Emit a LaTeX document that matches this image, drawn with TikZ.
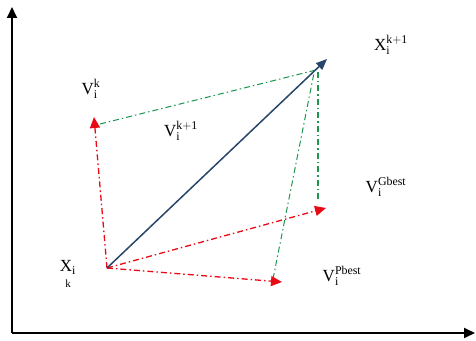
\documentclass[tikz,border=0pt]{standalone}
\usepackage{fontspec}
\setmainfont{Liberation Serif}
\usetikzlibrary{arrows.meta}
\definecolor{vred}{RGB}{232,10,20}
\definecolor{vgreen}{RGB}{30,150,80}
\definecolor{vblue}{RGB}{40,70,105}
\begin{document}
\begin{tikzpicture}[x=1pt, y=1pt,
  axis/.style={line width=1.8pt, -{Triangle[length=11pt,width=10pt]}},
  redvec/.style={vred, line width=1.3pt, dash pattern=on 6pt off 3pt on 1.5pt off 3pt,
                 -{Triangle[length=11pt,width=10pt]}},
  greenline/.style={vgreen, line width=1pt, dash pattern=on 6pt off 3pt on 1.5pt off 3pt},
  bluevec/.style={vblue, line width=1.5pt, -{Triangle[length=11pt,width=9pt]}},
  lbl/.style={font=\fontsize{17}{19}\selectfont, inner sep=0pt}
]
\useasboundingbox (0,0) rectangle (476,340);

% axes
\coordinate (o) at (12,7);
\coordinate (ytop) at (12,333);
\coordinate (xend) at (475,7);
\draw[axis] (o) -- (ytop);
\draw[axis] (o) -- (xend);

% points
\coordinate (xk) at (107,72);
\coordinate (vk) at (94,223);
\coordinate (pb) at (282,58);
\coordinate (gb) at (326,132);
\coordinate (xk1) at (327,281);
\coordinate (gtop1) at (316,270);
\coordinate (gtop2) at (314,267);
\coordinate (gtop3) at (318,268);
\coordinate (vkb) at (100,216);
\coordinate (pbb) at (273,61);
\coordinate (gbb) at (318,138);

% green construction lines
\draw[greenline] (vkb) -- (gtop1);
\draw[greenline] (pbb) -- (gtop2);
\draw[greenline, line width=1.6pt] (gtop3) -- (gbb);

% velocity vectors
\draw[redvec] (xk) -- (vk);
\draw[redvec] (xk) -- (pb);
\draw[redvec] (xk) -- (gb);
\draw[bluevec] (xk) -- (xk1);

% labels
\node[lbl] (lvk) at (91,251) {${\rm V}_{\rm i}^{\rm k}$};
\node[lbl] (lvk1) at (181,209) {${\rm V}_{\rm i}^{\rm k+1}$};
\node[lbl] (lxk1) at (391,295) {${\rm X}_{\rm i}^{\rm k+1}$};
\node[lbl] (lgb) at (386,153) {${\rm V}_{\rm i}^{\rm Gbest}$};
\node[lbl] (lpb) at (342,64) {${\rm V}_{\rm i}^{\rm Pbest}$};
\node[lbl, align=center] (lxk) at (68,66) {${\rm X}_{\rm i}$\\[-3pt]{\fontsize{11}{12}\selectfont k}};
\end{tikzpicture}
\end{document}
